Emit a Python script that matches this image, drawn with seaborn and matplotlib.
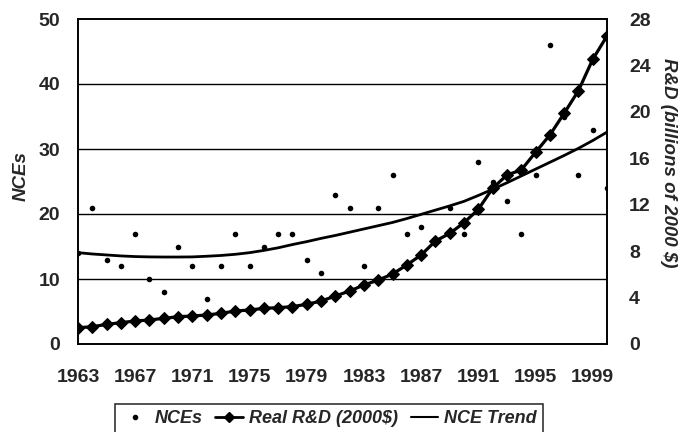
import matplotlib
matplotlib.use('Agg')
import matplotlib.pyplot as plt
import seaborn as sns
import pandas as pd
from matplotlib.lines import Line2D
from matplotlib.ticker import MultipleLocator

years = list(range(1963, 2001))
nces = [14, 21, 13, 12, 17, 10, 8, 15, 12, 7, 12, 17, 12, 15, 17, 17, 13, 11, 23,
        21, 12, 21, 26, 17, 18, 16, 21, 17, 28, 25, 22, 17, 26, 46, 35, 26, 33, 24]
rd = [1.40, 1.49, 1.69, 1.84, 1.98, 2.07, 2.21, 2.35, 2.41, 2.50, 2.64, 2.84, 2.93,
      3.07, 3.13, 3.22, 3.42, 3.70, 4.13, 4.57, 5.08, 5.51, 6.03, 6.81, 7.67, 8.87,
      9.53, 10.45, 11.60, 13.41, 14.56, 14.99, 16.51, 18.0, 19.87, 21.82, 24.52, 26.54]
nce_trend = [14.05, 13.85, 13.7, 13.55, 13.45, 13.4, 13.38, 13.38, 13.4, 13.5, 13.62,
             13.8, 14.05, 14.4, 14.8, 15.3, 15.75, 16.25, 16.7, 17.2, 17.7, 18.2, 18.7,
             19.3, 19.95, 20.6, 21.25, 21.95, 22.85, 23.8, 24.8, 25.85, 26.9, 27.95,
             29.0, 30.1, 31.3, 32.6]
xtick_labels = [str(y) for y in range(1963, 2000, 4)]

df = pd.DataFrame({"year": years, "nces": nces, "rd": rd, "trend": nce_trend})

sns.set_style("white")
plt.rcParams['font.family'] = ['Liberation Sans', 'DejaVu Sans']
plt.rcParams['font.weight'] = 'bold'

fig = plt.figure(figsize=(6.83, 4.32), dpi=100)
ax = fig.add_axes([78/683, 1-344/432, (607-78)/683, (344-19)/432])
ax2 = ax.twinx()

# gridlines
for g in [10, 20, 30, 40]:
    ax.axhline(g, color='black', lw=1.0, zorder=0)

sns.lineplot(data=df, x="year", y="trend", ax=ax, color='black', lw=2.0, zorder=2)
sns.scatterplot(data=df, x="year", y="nces", ax=ax, color='black', s=16,
                edgecolor='black', linewidth=0, zorder=3)
sns.lineplot(data=df, x="year", y="rd", ax=ax2, color='black', lw=2.3,
             marker='D', markersize=6.5, markeredgecolor='black', zorder=4)

ax.set_xlim(1963, 2000)
ax.set_ylim(0, 50)
ax2.set_ylim(0, 28)
ax.set_xlabel('')
ax.set_ylabel('')
ax2.set_ylabel('')

ax.set_yticks([0, 10, 20, 30, 40, 50])
ax2.set_yticks(list(range(0, 29, 4)))
ax.set_xticks(list(range(1963, 2000, 4)))
ax.set_xticklabels(xtick_labels)
ax.xaxis.set_minor_locator(MultipleLocator(1))

fs = 14
ax.tick_params(axis='x', which='both', direction='in', length=5, width=1,
               color='black', labelsize=fs, pad=18, top=False)
ax.tick_params(axis='y', length=0, labelsize=fs, pad=13)
ax2.tick_params(axis='y', length=0, labelsize=fs, pad=16)
ax2.tick_params(axis='x', length=0)

for a in (ax, ax2):
    for s in a.spines.values():
        s.set_color('black')
        s.set_linewidth(1.2)
    for lab in a.get_xticklabels() + a.get_yticklabels():
        lab.set_fontweight('bold')

fig.text(21/683, 1-176/432, 'NCEs', rotation=90, ha='center', va='center',
         fontsize=13.5, fontweight='bold', style='italic')
fig.text(668/683, 1-163/432, 'R&D (billions of 2000 $)', rotation=270,
         ha='center', va='center', fontsize=13.5, fontweight='bold', style='italic')

handles = [
    Line2D([], [], ls='none', marker='o', color='black', markersize=3),
    Line2D([], [], color='black', lw=2, marker='D', markersize=5),
    Line2D([], [], color='black', lw=1.5),
]
labels = ['NCEs', 'Real R&D (2000$)', 'NCE Trend']
leg = fig.legend(handles, labels, loc='upper center', bbox_to_anchor=(329/683, 1-404/432),
                 ncol=3, frameon=True, fancybox=False, edgecolor='black',
                 prop=dict(size=13, weight='bold', style='italic'),
                 handlelength=1.5, handletextpad=0.35, columnspacing=0.7,
                 borderpad=0.35, borderaxespad=0)
leg.get_frame().set_linewidth(1.2)

fig.savefig('out.png', dpi=100)
